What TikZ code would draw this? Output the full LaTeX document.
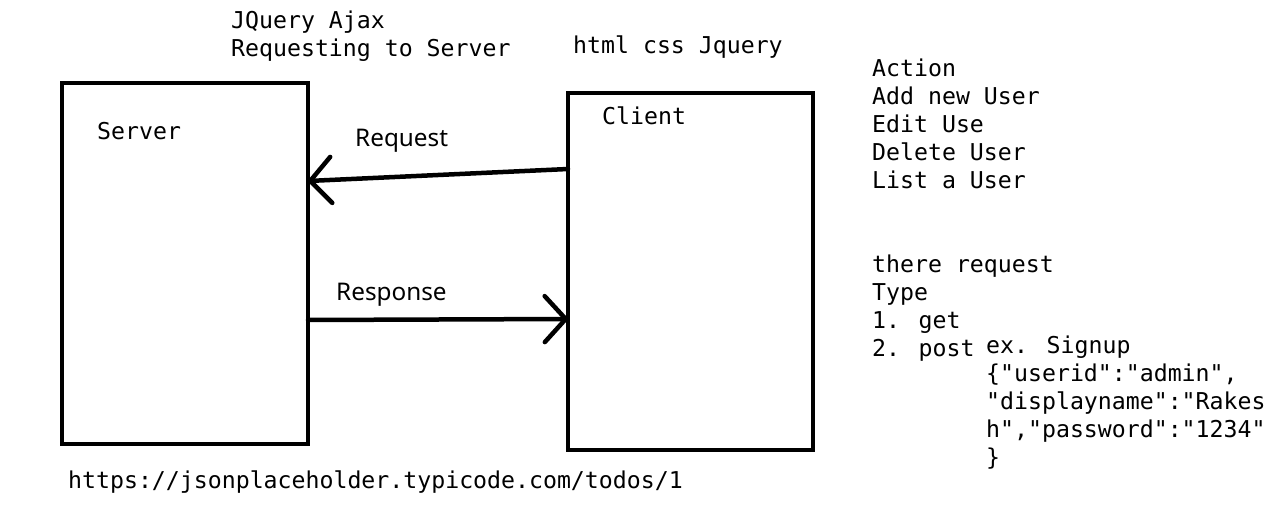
\documentclass[tikz,border=0pt]{standalone}
\usepackage{fontspec}
\newfontfamily\monof{DejaVu Sans Mono}
\newfontfamily\sansf{Noto Sans}
\usetikzlibrary{arrows.meta}
\begin{document}
\begin{tikzpicture}[x=1pt,y=-1pt,
  box/.style={draw=black,line width=4.5pt,outer sep=0pt,inner sep=0pt,rectangle},
  mtxt/.style={anchor=base west,inner sep=0pt,align=left,font=\monof\fontsize{23.2}{28}\selectfont},
  stxt/.style={anchor=base west,inner sep=0pt,font=\sansf\fontsize{24.3}{28}\selectfont},
  arr/.style={line width=4.5pt,line cap=round,-{Straight Barb[length=21pt,width=46pt,line width=4.5pt,round]}}]
\fill[white] (0,0) rectangle (1283,522);
\useasboundingbox (0,0) rectangle (1283,522);
\node[box,minimum width=246pt,minimum height=361pt] (server) at (185,263.5) {};
\node[box,minimum width=245pt,minimum height=357pt] (client) at (690.5,271.5) {};
\draw[arr] ([yshift=102.5pt]client.west) -- ([yshift=82.5pt]server.east);
\draw[arr] ([yshift=-56.5pt]server.east) -- ([yshift=-47.5pt]client.west);
\node[mtxt] (ajax) at (231,56) {JQuery Ajax\\Requesting to Server};
\node[mtxt] (tech) at (573,53) {html css Jquery};
\node[mtxt] (serverlbl) at (97,139) {Server};
\node[mtxt] (clientlbl) at (602,124) {Client};
\node[stxt] (req) at (355,146) {Request};
\node[stxt] (resp) at (336,300) {Response};
\node[mtxt] (actions) at (872,188) {Action\\Add new User\\Edit Use\\Delete User\\List a User};
\node[mtxt] (types) at (872,356) {there request\\Type\\1. get\\2. post};
\node[mtxt] (example) at (986,465) {ex. Signup\\\{"userid":"admin",\\"displayname":"Rakes\\h","password":"1234"\\\}};
\node[mtxt] (url) at (68,488) {https://jsonplaceholder.typicode.com/todos/1};
\end{tikzpicture}
\end{document}
